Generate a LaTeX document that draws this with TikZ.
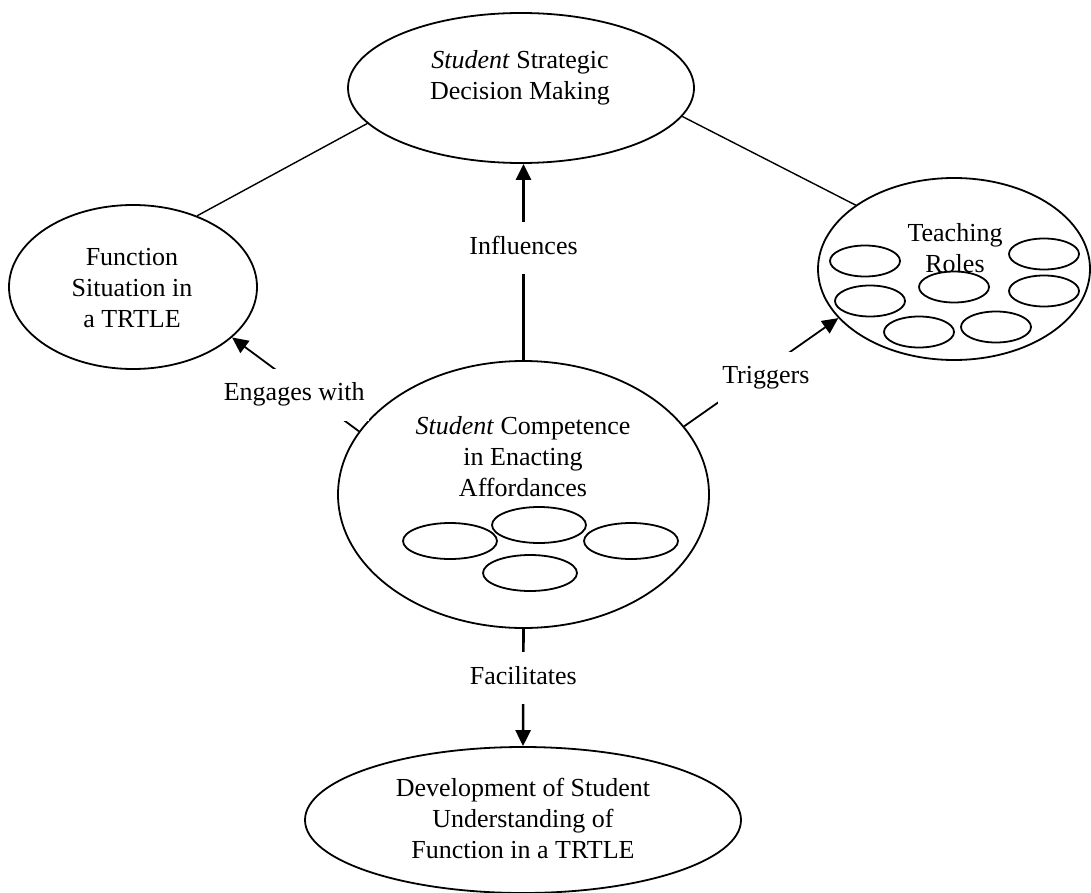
\documentclass[tikz,border=0pt]{standalone}
\usepackage{fontspec}
\setmainfont{Liberation Serif}
\usetikzlibrary{arrows.meta,shapes.geometric}

\begin{document}
\begin{tikzpicture}[x=0.5pt,y=-0.5pt,line join=round,
    every node/.style={font=\fontsize{13}{15.5}\selectfont},
    oval/.style 2 args={ellipse,draw,line width=0.9pt,inner sep=0pt,
      minimum width=#1,minimum height=#2},
    txt/.style={align=center,inner sep=0pt},
    lbl/.style={fill=white,inner xsep=2pt,inner ysep=7pt,text height=9pt,text depth=3pt},
    >={Triangle[length=8pt,width=7.5pt]}]
  \useasboundingbox (0,0) rectangle (1091,893);
  % the five ovals
  \node[oval={173pt}{75pt}] (sdm) at (521,88) {};
  \node[oval={124pt}{82pt}] (func) at (133,287) {};
  \node[oval={136pt}{91pt}] (teach) at (954,269) {};
  \node[oval={185.5pt}{133.5pt}] (comp) at (523.5,494.5) {};
  \node[oval={218pt}{73pt}] (dev) at (523,820) {};
  % their texts
  \node[txt] (sdmtext) at (520,78) {\textit{Student} Strategic\\Decision Making};
  \node[txt] (functext) at (132,288) {Function\\Situation in\\a TRTLE};
  \node[txt] (teachtext) at (955,248) {Teaching\\Roles};
  \node[txt] (comptext) at (523,457) {\textit{Student} Competence\\in Enacting\\Affordances};
  \node[txt] (devtext) at (523,818) {Development of Student\\Understanding of\\Function in a TRTLE};
  % small ovals
  \foreach \x/\y [count=\i] in {450/541,539/525,631/541,530/573}
    \node[oval={47pt}{18pt}] (aff\i) at (\x,\y) {};
  \foreach \x/\y [count=\i] in {865/261,1044/254,954/287,870/301,1044/291,919/332,996/327}
    \node[oval={35pt}{15.5pt}] (role\i) at (\x,\y) {};
  % connectors
  \draw[line width=0.7pt] (sdm.193) -- (func.48);
  \draw[line width=0.7pt] (sdm.350) -- (teach.147);
  \draw[->,line width=1.3pt] (comp.north) -- node[lbl,pos=0.57]{Influences} (comp.north |- sdm.south);
  \draw[->,line width=1.3pt] (comp.south) -- node[lbl,pos=0.42]{Facilitates} (dev.north);
  \draw[->,line width=0.9pt] (comp.159) -- node[lbl,pos=0.51,yshift=-5.75pt]{Engages with} (func.333);
  \draw[->,line width=0.9pt] (comp.23) -- node[lbl,pos=0.53,yshift=-4.5pt]{Triggers} (teach.203);
\end{tikzpicture}
\end{document}
